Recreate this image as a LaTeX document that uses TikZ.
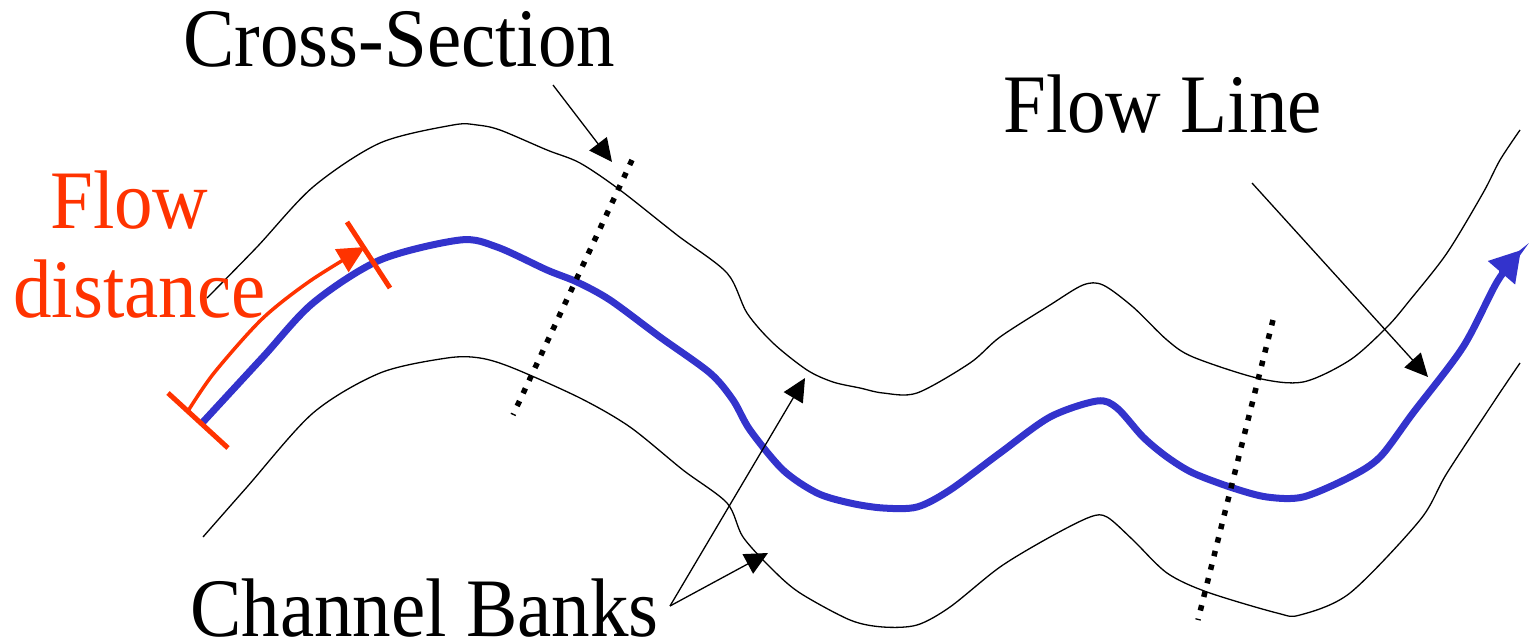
\documentclass[tikz,border=0pt]{standalone}
\usepackage{fontspec}
\setmainfont{Liberation Serif}
\newfontfamily\timesfont{Liberation Serif}
\usetikzlibrary{arrows.meta}
\definecolor{flowred}{HTML}{FF3300}
\definecolor{flowblue}{HTML}{3333CC}
\begin{document}
\begin{tikzpicture}[x=1pt,y=-1pt,
  bank/.style={line width=1.3pt, black, line join=round},
  pointer/.style={line width=1.3pt, black, -{Triangle[length=23pt,width=22pt]}},
  lbl/.style={inner sep=0pt, anchor=base west, font=\timesfont\fontsize{77}{89}\selectfont},
  xsec/.style={line width=5.5pt, black, dash pattern=on 5.5pt off 8.5pt},
  flowline/.style={line width=7pt, flowblue, line cap=round, -{Triangle[length=30pt,width=34pt]}},
  fdist/.style={line width=3.5pt, flowred, -{Triangle[length=27pt,width=26pt]}},
  fbar/.style={line width=5pt, flowred}]
\useasboundingbox (0,0) rectangle (1531,643);
% channel banks
\draw[bank] plot[smooth, tension=0.5] coordinates {(207,298) (257,247) (313,187) (380,143) (453,125) (477,125) (500,130) (547,150) (580,163) (620,190) (677,235) (727,273) (747,313) (773,343) (807,370) (833,382) (860,388) (883,393) (917,393) (970,363) (1000,337) (1050,305) (1083,285) (1103,285) (1133,307) (1167,340) (1193,357) (1257,378) (1303,382) (1350,360) (1387,327) (1410,300) (1447,253) (1483,193) (1500,160) (1520,130)};
\draw[bank] plot[smooth, tension=0.5] coordinates {(203,537) (247,487) (313,413) (380,373) (447,358) (480,358) (513,368) (580,398) (630,427) (683,470) (727,503) (743,537) (773,570) (800,593) (850,620) (883,627) (917,625) (950,607) (1000,567) (1050,537) (1090,517) (1107,517) (1133,540) (1167,573) (1207,592) (1277,613) (1300,615) (1350,593) (1420,520) (1447,473) (1497,397) (1520,363)};
% flow line
\draw[flowline] plot[smooth, tension=0.5] coordinates {(203,422) (263,357) (313,303) (380,260) (460,240) (497,247) (547,270) (577,282) (610,300) (660,337) (710,373) (733,400) (750,430) (783,470) (817,493) (850,503) (883,508) (917,507) (950,490) (1000,453) (1050,417) (1097,401) (1117,408) (1143,437) (1167,457) (1193,473) (1233,488) (1267,497) (1303,497) (1350,477) (1380,457) (1413,413) (1463,347) (1497,282) (1521,250)};
% cross sections
\coordinate (xa1) at (632,160);
\coordinate (xa2) at (513,415);
\coordinate (xb1) at (1273,320);
\coordinate (xb2) at (1198,620);
\draw[xsec] (xa1) -- (xa2);
\draw[xsec] (xb1) -- (xb2);
% labels
\node[lbl] (cs) at (183,66) {\scalebox{1}[1.08]{Cross-Section}};
\node[lbl] (fl) at (1003,132) {\scalebox{1}[1.08]{Flow Line}};
\node[lbl] (cb) at (190,636) {\scalebox{1}[1.08]{Channel Banks}};
\node[lbl, text=flowred] (fd1) at (50,228) {\scalebox{1}[1.08]{Flow}};
\node[lbl, text=flowred] (fd2) at (13,317) {\scalebox{1}[1.08]{distance}};
% pointers
\coordinate (csA) at (553,85);
\coordinate (csB) at (612,162);
\coordinate (flA) at (1252,183);
\coordinate (flB) at (1428,377);
\coordinate (cbA) at (670,606);
\coordinate (cbB) at (805,378);
\coordinate (cbC) at (768,553);
\draw[pointer] (csA) -- (csB);
\draw[pointer] (flA) -- (flB);
\draw[pointer] (cbA) -- (cbB);
\draw[pointer] (cbA) -- (cbC);
% flow distance
\coordinate (b1a) at (168,393);
\coordinate (b1b) at (228,448);
\coordinate (b2a) at (347,222);
\coordinate (b2b) at (390,288);
\draw[fbar] (b1a) -- (b1b);
\draw[fbar] (b2a) -- (b2b);
\draw[fdist] plot[smooth, tension=0.5] coordinates {(188,411) (214,373) (262,319) (310,281) (365,247)};
\end{tikzpicture}
\end{document}
